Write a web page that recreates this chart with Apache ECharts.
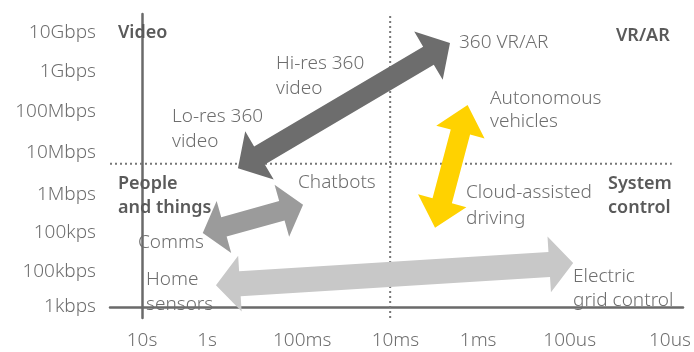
<!DOCTYPE html>
<html>
<head>
<meta charset="utf-8">
<script src="https://cdn.jsdelivr.net/npm/echarts@6/dist/echarts.min.js"></script>
<style>
  html, body { margin: 0; padding: 0; background: #fff; }
  #chart { width: 694px; height: 352px; }
</style>
</head>
<body>
<div id="chart"></div>
<script>
// tick labels and where they sit on each axis
var xLabels = ['10s', '1s', '100ms', '10ms', '1ms', '100us', '10us'];
var xTickPos = [0, 0.74, 1.82, 2.88, 3.82, 4.86, 6];
var yLabels = ['1kbps', '100kbps', '100kps', '1Mbps', '10Mbps', '100Mbps', '1Gbps', '10Gbps'];
var yTickPos = [0, 0.9, 1.92, 2.87, 3.97, 5.0, 6.03, 7.03];

// quadrant dividers
var dividerX = 2.82;
var dividerY = 3.67;
var dividerYEnd = 6.02;

// double-headed arrows: start x, start y, end x, end y
var arrowNames = ['Home sensors - Electric grid control', 'Comms - Chatbots', 'Lo-res 360 - 360 VR/AR', 'Cloud-assisted - Autonomous'];
var arrowStart = [[0.84, 0.56], [0.69, 1.90], [1.09, 3.56], [3.33, 2.03]];
var arrowEnd = [[4.90, 1.13], [1.83, 2.62], [3.50, 6.77], [3.70, 5.18]];

var arrowStyle = [
    {color: '#c8c8c8', shaft: 25, head: 28, len: 24},
    {color: '#9b9b9b', shaft: 20, head: 27, len: 22},
    {color: '#6d6d6d', shaft: 21, head: 28, len: 25},
    {color: '#ffd200', shaft: 20, head: 25, len: 28}
];

var xMin = -0.364, xMax = 6.148;
var yMin = -0.282, yMax = 7.513;

function pick(list, pos, v) {
    for (var i = 0; i < pos.length; i++) {
        if (Math.abs(pos[i] - v) < 0.001) return list[i];
    }
    return '';
}

var arrowData = arrowStart.map(function (s, i) {
    return [s[0], s[1], arrowEnd[i][0], arrowEnd[i][1]];
});

function renderArrow(params, api) {
    var a = api.coord([api.value(0), api.value(1)]);
    var b = api.coord([api.value(2), api.value(3)]);
    var st = arrowStyle[params.dataIndex];
    var dx = b[0] - a[0], dy = b[1] - a[1];
    var l = Math.sqrt(dx * dx + dy * dy);
    var d = [dx / l, dy / l];
    var n = [-d[1], d[0]];
    var w = st.shaft / 2, h = st.head, L = st.len;
    function p(base, along, side) {
        return [base[0] + d[0] * along + n[0] * side, base[1] + d[1] * along + n[1] * side];
    }
    var pts = [
        a,
        p(a, L, h), p(a, L, w),
        p(b, -L, w), p(b, -L, h),
        b,
        p(b, -L, -h), p(b, -L, -w),
        p(a, L, -w), p(a, L, -h)
    ];
    return {type: 'polygon', shape: {points: pts}, style: {fill: st.color}};
}

var font = '"Noto Sans"';
var txtColor = '#6e6e6e';
var headColor = '#5a5a5a';

function note(text, x, y, lh, bold) {
    return {
        type: 'text', left: x, top: y, z: 10,
        style: {
            text: text, fill: bold ? headColor : txtColor,
            font: (bold ? '600 18px ' : '300 19px ') + font,
            lineHeight: lh || 24
        }
    };
}

var chart = echarts.init(document.getElementById('chart'));
var option = {
    animation: false,
    grid: {left: 110, right: 11, top: 14, bottom: 34},
    xAxis: {
        type: 'value', min: xMin, max: xMax,
        splitLine: {show: false},
        axisTick: {show: false},
        axisLine: {show: true, lineStyle: {color: '#6a6a6a', width: 2.5}},
        axisLabel: {
            customValues: xTickPos, margin: 13,
            color: txtColor, fontSize: 19, fontWeight: 300, fontFamily: font,
            formatter: function (v) { return pick(xLabels, xTickPos, v); }
        }
    },
    yAxis: {
        type: 'value', min: yMin, max: yMax,
        splitLine: {show: false},
        axisTick: {show: false},
        axisLine: {show: true, lineStyle: {color: '#6a6a6a', width: 2.5}},
        axisLabel: {
            customValues: yTickPos, margin: 14,
            color: txtColor, fontSize: 19, fontWeight: 300, fontFamily: font,
            formatter: function (v) { return pick(yLabels, yTickPos, v); }
        }
    },
    series: [
        {
            type: 'line', symbol: 'none', silent: true,
            lineStyle: {color: '#777', width: 2, type: [2, 3]},
            data: [[xMin, dividerY], [dividerYEnd, dividerY]]
        },
        {
            type: 'line', symbol: 'none', silent: true,
            lineStyle: {color: '#777', width: 2, type: [2, 3]},
            data: [[dividerX, yMin], [dividerX, yMax]]
        },
        {
            type: 'custom', name: 'arrows',
            renderItem: renderArrow,
            data: arrowData,
            z: 5
        }
    ],
    graphic: [
        note('Video', 118, 21, 24, true),
        note('VR/AR', 616, 24, 24, true),
        note('People\nand things', 118, 172, 24, true),
        note('System\ncontrol', 608, 172, 24, true),
        note('Lo-res 360\nvideo', 172, 104, 25),
        note('Hi-res 360\nvideo', 276, 51, 25),
        note('360 VR/AR', 459, 31, 24),
        note('Autonomous\nvehicles', 490, 87, 23),
        note('Chatbots', 298, 171, 24),
        note('Comms', 138, 231, 24),
        note('Home\nsensors', 146, 267, 25),
        note('Cloud-assisted\ndriving', 466, 180, 26),
        note('Electric\ngrid control', 573, 265, 24)
    ]
};
chart.setOption(option);
</script>
</body>
</html>
